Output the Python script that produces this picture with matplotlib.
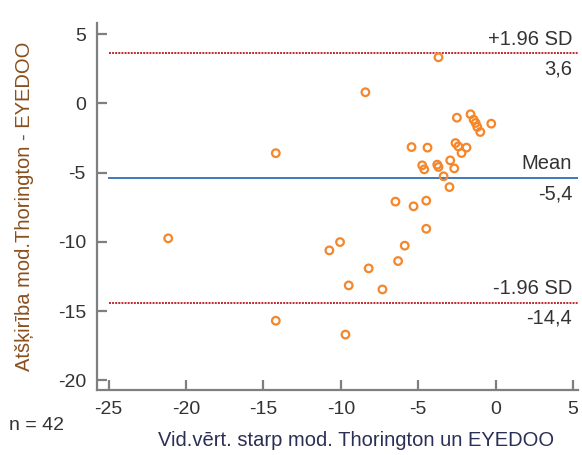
import matplotlib
matplotlib.use('Agg')
import matplotlib.pyplot as plt

# Bland-Altman data
avg = [-3.69, -8.41, -14.2, -21.15, -14.2, -9.7, -10.74, -10.05, -8.2, -9.49,
       -6.47, -5.3, -4.48, -4.48, -5.87, -6.3, -7.31, -3.36, -2.98, -2.5,
       -1.62, -1.42, -1.29, -1.18, -0.99, -0.28, -5.43, -4.4, -2.59, -2.41,
       -1.88, -2.2, -4.74, -4.61, -3.77, -3.69, -2.93, -2.67]
diff = [3.32, 0.8, -3.6, -9.75, -15.7, -16.7, -10.62, -10.02, -11.92, -13.15,
        -7.1, -7.44, -7.03, -9.06, -10.28, -11.39, -13.44, -5.27, -6.05, -1.04,
        -0.79, -1.18, -1.42, -1.71, -2.07, -1.47, -3.16, -3.2, -2.87, -3.11,
        -3.2, -3.59, -4.48, -4.77, -4.43, -4.6, -4.12, -4.7]
mean_diff = -5.4
upper = 3.6
lower = -14.4
n = 42
xticks = [-25, -20, -15, -10, -5, 0, 5]
yticks = [5, 0, -5, -10, -15, -20]

plt.rcParams['font.family'] = ['Liberation Sans', 'DejaVu Sans']
plt.rcParams['axes.unicode_minus'] = False

fig = plt.figure(figsize=(5.82, 4.55), dpi=100)
ax = fig.add_axes([0.1667, 0.1429, 0.8258, 0.8066])

ax.set_xlim(-25.75, 5.3)
ax.set_ylim(-20.7, 5.8)

gray = '#7f7f7f'
for s in ['top', 'right']:
    ax.spines[s].set_visible(False)
for s in ['left', 'bottom']:
    ax.spines[s].set_color(gray)
    ax.spines[s].set_linewidth(1.6)

ax.set_xticks(xticks)
ax.set_yticks(yticks)
ax.tick_params(direction='in', length=7, width=1.6, color=gray,
               labelsize=14, labelcolor='#333333', pad=8)

# reference lines
ax.plot([-25, 5.3], [upper, upper], color='#c0282d', lw=1.4, ls=(0, (1, 0.6)))
ax.plot([-25, 5.3], [lower, lower], color='#c0282d', lw=1.4, ls=(0, (1, 0.6)))
ax.plot([-25, 5.3], [mean_diff, mean_diff], color='#2f6db5', lw=1.3)

ax.scatter(avg, diff, s=30, facecolors='none', edgecolors='#f5862a',
           linewidths=1.6, zorder=3)

def fmt(v):
    return ('%.1f' % v).replace('.', ',')

labs = [(upper, '+1.96 SD'), (mean_diff, 'Mean'), (lower, '-1.96 SD')]
for v, name in labs:
    ax.text(4.95, v + 0.35, name, ha='right', va='bottom', fontsize=14.5, color='#333333')
    ax.text(4.95, v - 0.45, fmt(v), ha='right', va='top', fontsize=14.5, color='#333333')

ax.set_xlabel('Vid.vērt. starp mod. Thorington un EYEDOO', fontsize=14.5,
              color='#2a2f55')
ax.xaxis.set_label_coords(0.54, -0.112)
ax.set_ylabel('Atšķirība mod.Thorington - EYEDOO', fontsize=14.5,
              color='#8a4f1c', labelpad=17)

fig.text(0.015, 0.055, 'n = %d' % n, fontsize=14, color='#333333')

fig.savefig('out.png', dpi=100)
